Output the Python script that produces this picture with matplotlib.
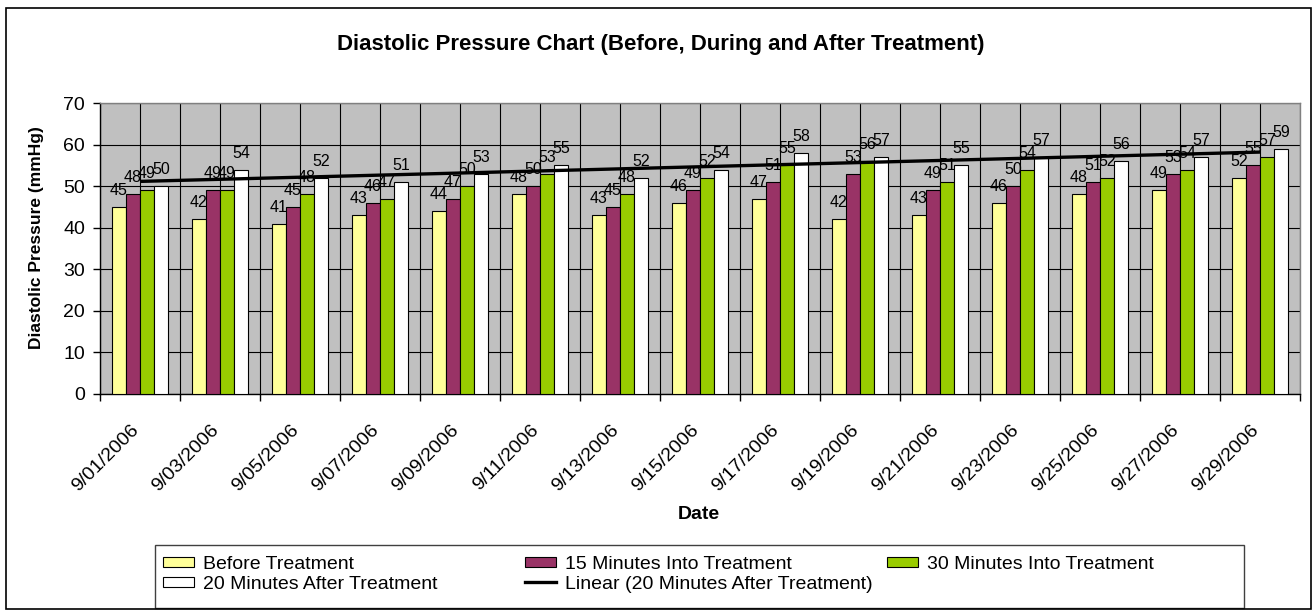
import numpy as np
import matplotlib
matplotlib.use("Agg")
import matplotlib.pyplot as plt
import matplotlib.transforms as mtransforms
from matplotlib.patches import Rectangle
from matplotlib.lines import Line2D

dates = ["9/01/2006", "9/03/2006", "9/05/2006", "9/07/2006", "9/09/2006",
         "9/11/2006", "9/13/2006", "9/15/2006", "9/17/2006", "9/19/2006",
         "9/21/2006", "9/23/2006", "9/25/2006", "9/27/2006", "9/29/2006"]
before = [45, 42, 41, 43, 44, 48, 43, 46, 47, 42, 43, 46, 48, 49, 52]
min15_into = [48, 49, 45, 46, 47, 50, 45, 49, 51, 53, 49, 50, 51, 53, 55]
min30_into = [49, 49, 48, 47, 50, 53, 48, 52, 55, 56, 51, 54, 52, 54, 57]
min20_after = [50, 54, 52, 51, 53, 55, 52, 54, 58, 57, 55, 57, 56, 57, 59]
series_names = ["Before Treatment", "15 Minutes Into Treatment",
                "30 Minutes Into Treatment", "20 Minutes After Treatment"]
trend_name = "Linear (20 Minutes After Treatment)"
colors = ["#FFFF99", "#993366", "#99CC00", "#FFFFFF"]

plt.rcParams['font.family'] = ['Liberation Sans', 'DejaVu Sans']

W, H = 1312, 610
fig = plt.figure(figsize=(W / 100, H / 100), dpi=100)


def fx(px):
    return px / W


def fy(py):
    return 1 - py / H


ax = fig.add_axes([fx(100), fy(394), 1200 / W, 291 / H])
ax.set_facecolor('#C0C0C0')

x = np.arange(len(dates))
bw = 0.175
for i, (vals, c) in enumerate(zip([before, min15_into, min30_into, min20_after], colors)):
    pos = x + (i - 1.5) * bw
    ax.bar(pos, vals, bw, color=c, edgecolor='black', linewidth=0.8, zorder=3)
    for p, v in zip(pos, vals):
        ax.annotate(str(v), (p, v), xytext=(0, 12), textcoords='offset pixels',
                    ha='center', va='baseline', fontsize=11.5, zorder=4)

# linear trend of the last series
coef = np.polyfit(x, min20_after, 1)
xt = np.array([x[0], x[-1]])
ax.plot(xt, np.polyval(coef, xt), color='black', lw=2.4, zorder=5,
        solid_capstyle='butt')

ax.set_xlim(-0.5, len(dates) - 0.5)
ax.set_ylim(0, 70)
ax.set_yticks(np.arange(0, 71, 10))
ax.set_xticks(np.arange(-0.5, len(dates), 1.0))
ax.set_xticklabels([])
ax.set_xticks(x, minor=True)
ax.set_xticklabels(dates, minor=True, rotation=45, ha='right', va='top',
                   rotation_mode='anchor', fontsize=14)
ax.tick_params(axis='x', which='minor', length=0, pad=19.5)
ax.tick_params(axis='x', which='major', length=5, width=1, direction='out')
ax.tick_params(axis='y', length=5, width=1, direction='out', labelsize=14, pad=5.8)
offset = mtransforms.ScaledTranslation(-10 / 100, 0, fig.dpi_scale_trans)
for lab in ax.get_xticklabels(minor=True):
    lab.set_transform(lab.get_transform() + offset)

ax.set_axisbelow(True)
ax.yaxis.grid(True, color='black', lw=0.8)
ax.xaxis.grid(True, which='both', color='black', lw=0.8)
for s in ['left', 'bottom']:
    ax.spines[s].set_color('black')
    ax.spines[s].set_linewidth(1)
for s in ['top', 'right']:
    ax.spines[s].set_color('#808080')
    ax.spines[s].set_linewidth(1)

fig.text(fx(661), fy(50), "Diastolic Pressure Chart (Before, During and After Treatment)",
         ha='center', va='baseline', fontsize=16, fontweight='bold')
fig.text(fx(37), fy(238), "Diastolic Pressure (mmHg)", rotation=90,
         ha='center', va='center', fontsize=12.5, fontweight='bold')
fig.text(fx(699), fy(519), "Date", ha='center', va='baseline',
         fontsize=14, fontweight='bold')

# legend box
fig.add_artist(Rectangle((fx(155), fy(608)), (1244 - 155) / W, (608 - 545) / H,
                         transform=fig.transFigure, fill=False,
                         edgecolor='#404040', lw=1))
items = [(0, 0, 'patch', colors[0], series_names[0]),
         (1, 0, 'patch', colors[1], series_names[1]),
         (2, 0, 'patch', colors[2], series_names[2]),
         (0, 1, 'patch', colors[3], series_names[3]),
         (1, 1, 'line', 'black', trend_name)]
col_text_x = [203, 565, 927]
row_y = [562, 582]
for col, row, kind, c, name in items:
    tx = col_text_x[col]
    ry = row_y[row]
    if kind == 'patch':
        fig.add_artist(Rectangle((fx(tx - 40), fy(ry + 5)), 31 / W, 10 / H,
                                 transform=fig.transFigure, facecolor=c,
                                 edgecolor='black', lw=0.8))
    else:
        fig.add_artist(Line2D([fx(tx - 40), fx(tx - 9)], [fy(ry), fy(ry)],
                              transform=fig.transFigure, color=c, lw=2.4))
    fig.text(fx(tx), fy(ry + 7), name, ha='left', va='baseline', fontsize=14)

# outer chart border
fig.add_artist(Rectangle((fx(6), fy(609)), (1311 - 6) / W, (609 - 8) / H,
                         transform=fig.transFigure, fill=False,
                         edgecolor='black', lw=1.2))

fig.savefig("out.png", dpi=100)
